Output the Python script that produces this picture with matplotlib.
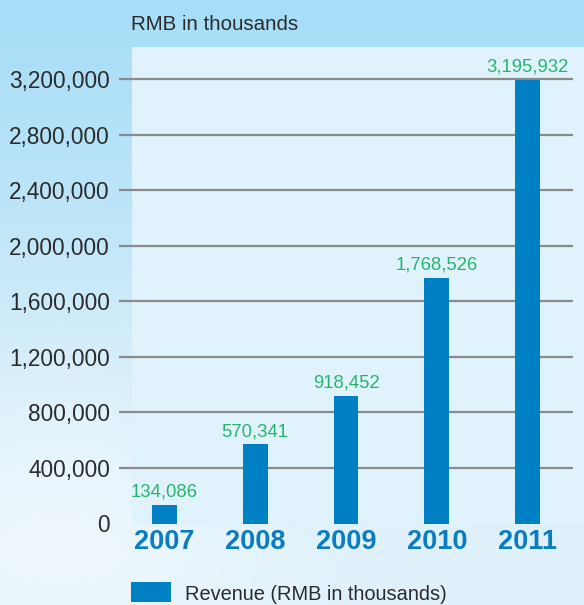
import numpy as np
import matplotlib
matplotlib.use("Agg")
import matplotlib.pyplot as plt
from matplotlib.patches import Rectangle

years = ["2007", "2008", "2009", "2010", "2011"]
revenue = [134086, 570341, 918452, 1768526, 3195932]
yticks = [0, 400000, 800000, 1200000, 1600000, 2000000, 2400000, 2800000, 3200000]
ytick_labels = ["0", "400,000", "800,000", "1,200,000", "1,600,000",
                "2,000,000", "2,400,000", "2,800,000", "3,200,000"]
unit_label = "RMB in thousands"
legend_label = "Revenue (RMB in thousands)"

W, H = 584, 605
fig = plt.figure(figsize=(W / 100, H / 100), dpi=100)

def fx(px):
    return px / W

def fy(py):
    return 1 - py / H

# background gradient
bg = fig.add_axes([0, 0, 1, 1], zorder=-10)
yy, xx = np.mgrid[0:1:200j, 0:1:200j]
top = np.array([166, 221, 247]) / 255
bottom = np.array([224, 241, 251]) / 255
t = np.clip(yy * 1.1, 0, 1)[..., None]
img = top * (1 - t) + bottom * t
cloud = np.exp(-(((xx - 0.1) / 0.35) ** 2 + ((yy - 0.85) / 0.3) ** 2))[..., None]
img = img * (1 - 0.45 * cloud) + 0.45 * cloud * np.array([1, 1, 1])
bg.imshow(img, extent=[0, 1, 0, 1], aspect="auto", origin="upper")
bg.set_axis_off()

# panel
fig.patches.append(Rectangle((fx(132), fy(525)), fx(584) - fx(132), fy(47) - fy(525),
                             transform=fig.transFigure, facecolor="#e0f2fc",
                             edgecolor="none", zorder=-5))

ax = fig.add_axes([fx(119), fy(523.5), fx(573) - fx(119), fy(47) - fy(523.5)])
ax.set_facecolor("none")
ax.patch.set_alpha(0)
ax.set_xlim(-0.5, 4.5)
ax.set_ylim(0, 3434000)
x = np.arange(len(years))
for v in yticks[1:]:
    ax.axhline(v, color="#8a8a8a", lw=1.6, zorder=1)
ax.bar(x, revenue, width=0.275, color="#0080c4", zorder=3)
for xi, v in zip(x, revenue):
    ax.annotate(f"{v:,}", (xi, v), xytext=(0, 3), textcoords="offset points",
                ha="center", va="bottom", color="#27b56c", fontsize=13.3,
                family="Liberation Sans")
for s in ax.spines.values():
    s.set_visible(False)
ax.set_yticks(yticks)
ax.set_yticklabels(ytick_labels, fontsize=16.3, color="#2b2b2b", family="Liberation Sans")
ax.tick_params(axis="y", length=0, pad=6.5)
ax.set_xticks(x)
ax.set_xticklabels(years, fontsize=19.5, fontweight="bold", color="#0a7cc2",
                   family="Liberation Sans")
ax.tick_params(axis="x", length=0, pad=4)

fig.text(fx(131), fy(24), unit_label, fontsize=14.8, color="#2b2b2b",
         family="Liberation Sans", ha="left", va="center")

fig.patches.append(Rectangle((fx(131), fy(602)), fx(171) - fx(131), fy(582) - fy(602),
                             transform=fig.transFigure, facecolor="#0080c4",
                             edgecolor="none"))
fig.text(fx(185), fy(594), legend_label, fontsize=14.4, color="#2b2b2b",
         family="Liberation Sans", ha="left", va="center")

fig.savefig("out.png", dpi=100)
